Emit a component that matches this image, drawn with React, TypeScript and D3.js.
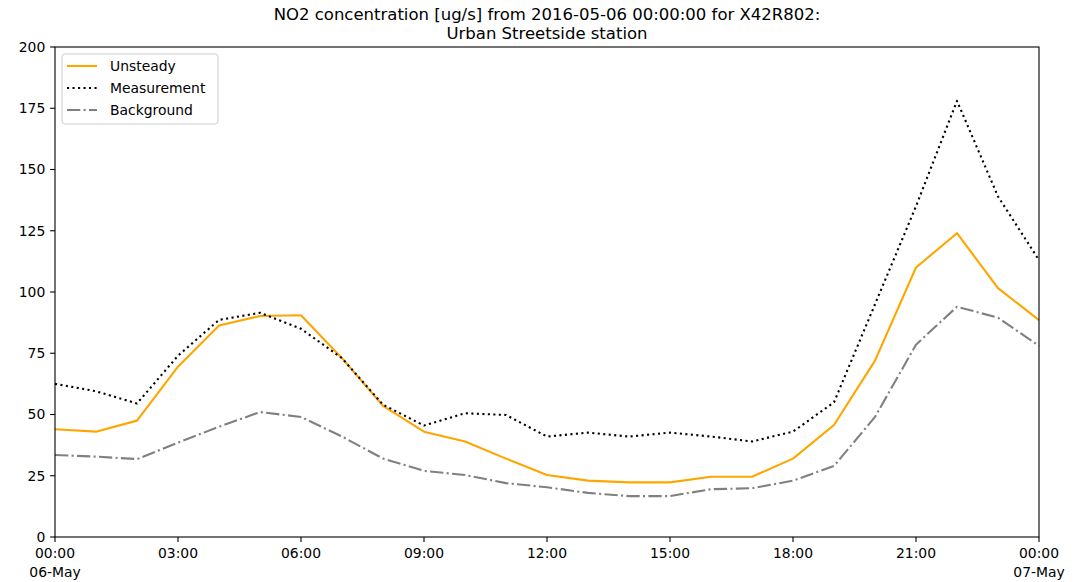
import React from "react";
import * as d3 from "d3";

const hours: number[] = d3.range(0, 25);
const unsteady: number[] = [44, 43, 47.5, 69.5, 86.3, 90.2, 90.5, 73, 53.5, 43, 39, 32, 25.3, 23, 22.3, 22.3, 24.6, 24.6, 32, 45.7, 72, 110, 124, 101.6, 88.5];
const measurement: number[] = [62.5, 59.5, 54.5, 74, 88.6, 91.5, 85, 73, 54, 45.5, 50.5, 49.8, 41, 42.6, 41, 42.6, 41, 39, 43, 55, 95, 135, 178, 139, 113];
const background: number[] = [33.5, 32.8, 31.8, 38.5, 45, 51, 49, 41, 32, 27, 25.3, 22, 20.3, 18, 16.7, 16.7, 19.5, 19.9, 23, 29, 49, 78.5, 94, 89.5, 78];
const yTicks: number[] = [0, 25, 50, 75, 100, 125, 150, 175, 200];
const titleLines: string[] = [
  "NO2 concentration [ug/s] from 2016-05-06 00:00:00 for X42R802:",
  "Urban Streetside station",
];
const legendLabels: string[] = ["Unsteady", "Measurement", "Background"];

const W = 1081;
const H = 582;
const M = { left: 55, right: 1039, top: 47, bottom: 537 };
const FONT = "'DejaVu Sans', sans-serif";

export default function App() {
  const start = new Date(2016, 4, 6, 0, 0, 0);
  const end = new Date(2016, 4, 7, 0, 0, 0);
  const times = hours.map((h) => d3.timeHour.offset(start, h));
  const x = d3.scaleTime().domain([start, end]).range([M.left, M.right]);
  const y = d3.scaleLinear().domain([0, 200]).range([M.bottom, M.top]);
  const xTicks = d3.timeHour.every(3)!.range(start, d3.timeHour.offset(end, 1));
  const line = d3
    .line<number>()
    .x((_, i) => x(times[i]))
    .y((d) => y(d));

  const series = [
    { label: legendLabels[0], data: unsteady, color: "#FFA500", dash: "", width: 2.1 },
    { label: legendLabels[1], data: measurement, color: "#000000", dash: "2.1 3.4", width: 2.1 },
    { label: legendLabels[2], data: background, color: "#808080", dash: "13.3 3.3 2.1 3.3", width: 2.1 },
  ];

  return (
    <svg
      width={W}
      height={H}
      style={{ position: "absolute", left: 0, top: 0, background: "#fff" }}
      fontFamily={FONT}
    >
      <rect x={0} y={0} width={W} height={H} fill="#fff" />
      {titleLines.map((t, i) => (
        <text key={i} x={(M.left + M.right) / 2} y={20 + i * 18.5} textAnchor="middle" fontSize={16.5} fill="#000">
          {t}
        </text>
      ))}
      <g>
        {series.map((s, i) => (
          <path
            key={i}
            d={line(s.data) || ""}
            fill="none"
            stroke={s.color}
            strokeWidth={s.width}
            strokeDasharray={s.dash || undefined}
            strokeLinejoin="round"
          />
        ))}
      </g>
      <rect
        x={M.left}
        y={M.top}
        width={M.right - M.left}
        height={M.bottom - M.top}
        fill="none"
        stroke="#000"
        strokeWidth={1.1}
      />
      {yTicks.map((v) => (
        <g key={v}>
          <line x1={M.left - 4.9} x2={M.left} y1={y(v)} y2={y(v)} stroke="#000" strokeWidth={1.1} />
          <text x={M.left - 9.7} y={y(v)} dy="0.35em" textAnchor="end" fontSize={13.9} fill="#000">
            {v}
          </text>
        </g>
      ))}
      {xTicks.map((t, i) => {
        const isMid = t.getHours() === 0;
        return (
          <g key={i}>
            <line x1={x(t)} x2={x(t)} y1={M.bottom} y2={M.bottom + 4.9} stroke="#000" strokeWidth={1.1} />
            <text x={x(t)} y={M.bottom + 21} textAnchor="middle" fontSize={13.9} fill="#000">
              {d3.timeFormat("%H:%M")(t)}
            </text>
            {isMid && (
              <text x={x(t)} y={M.bottom + 40} textAnchor="middle" fontSize={13.9} fill="#000">
                {d3.timeFormat("%d-%b")(t)}
              </text>
            )}
          </g>
        );
      })}
      <g>
        <rect x={62} y={54} width={156} height={70} rx={3} ry={3} fill="#fff" fillOpacity={0.8} stroke="#cccccc" strokeWidth={1} />
        {series.map((s, i) => {
          const cy = 66 + i * 22;
          return (
            <g key={i}>
              <line
                x1={67}
                x2={97}
                y1={cy}
                y2={cy}
                stroke={s.color}
                strokeWidth={s.width}
                strokeDasharray={s.dash || undefined}
              />
              <text x={110} y={cy} dy="0.35em" fontSize={13.9} fill="#000">
                {s.label}
              </text>
            </g>
          );
        })}
      </g>
    </svg>
  );
}
